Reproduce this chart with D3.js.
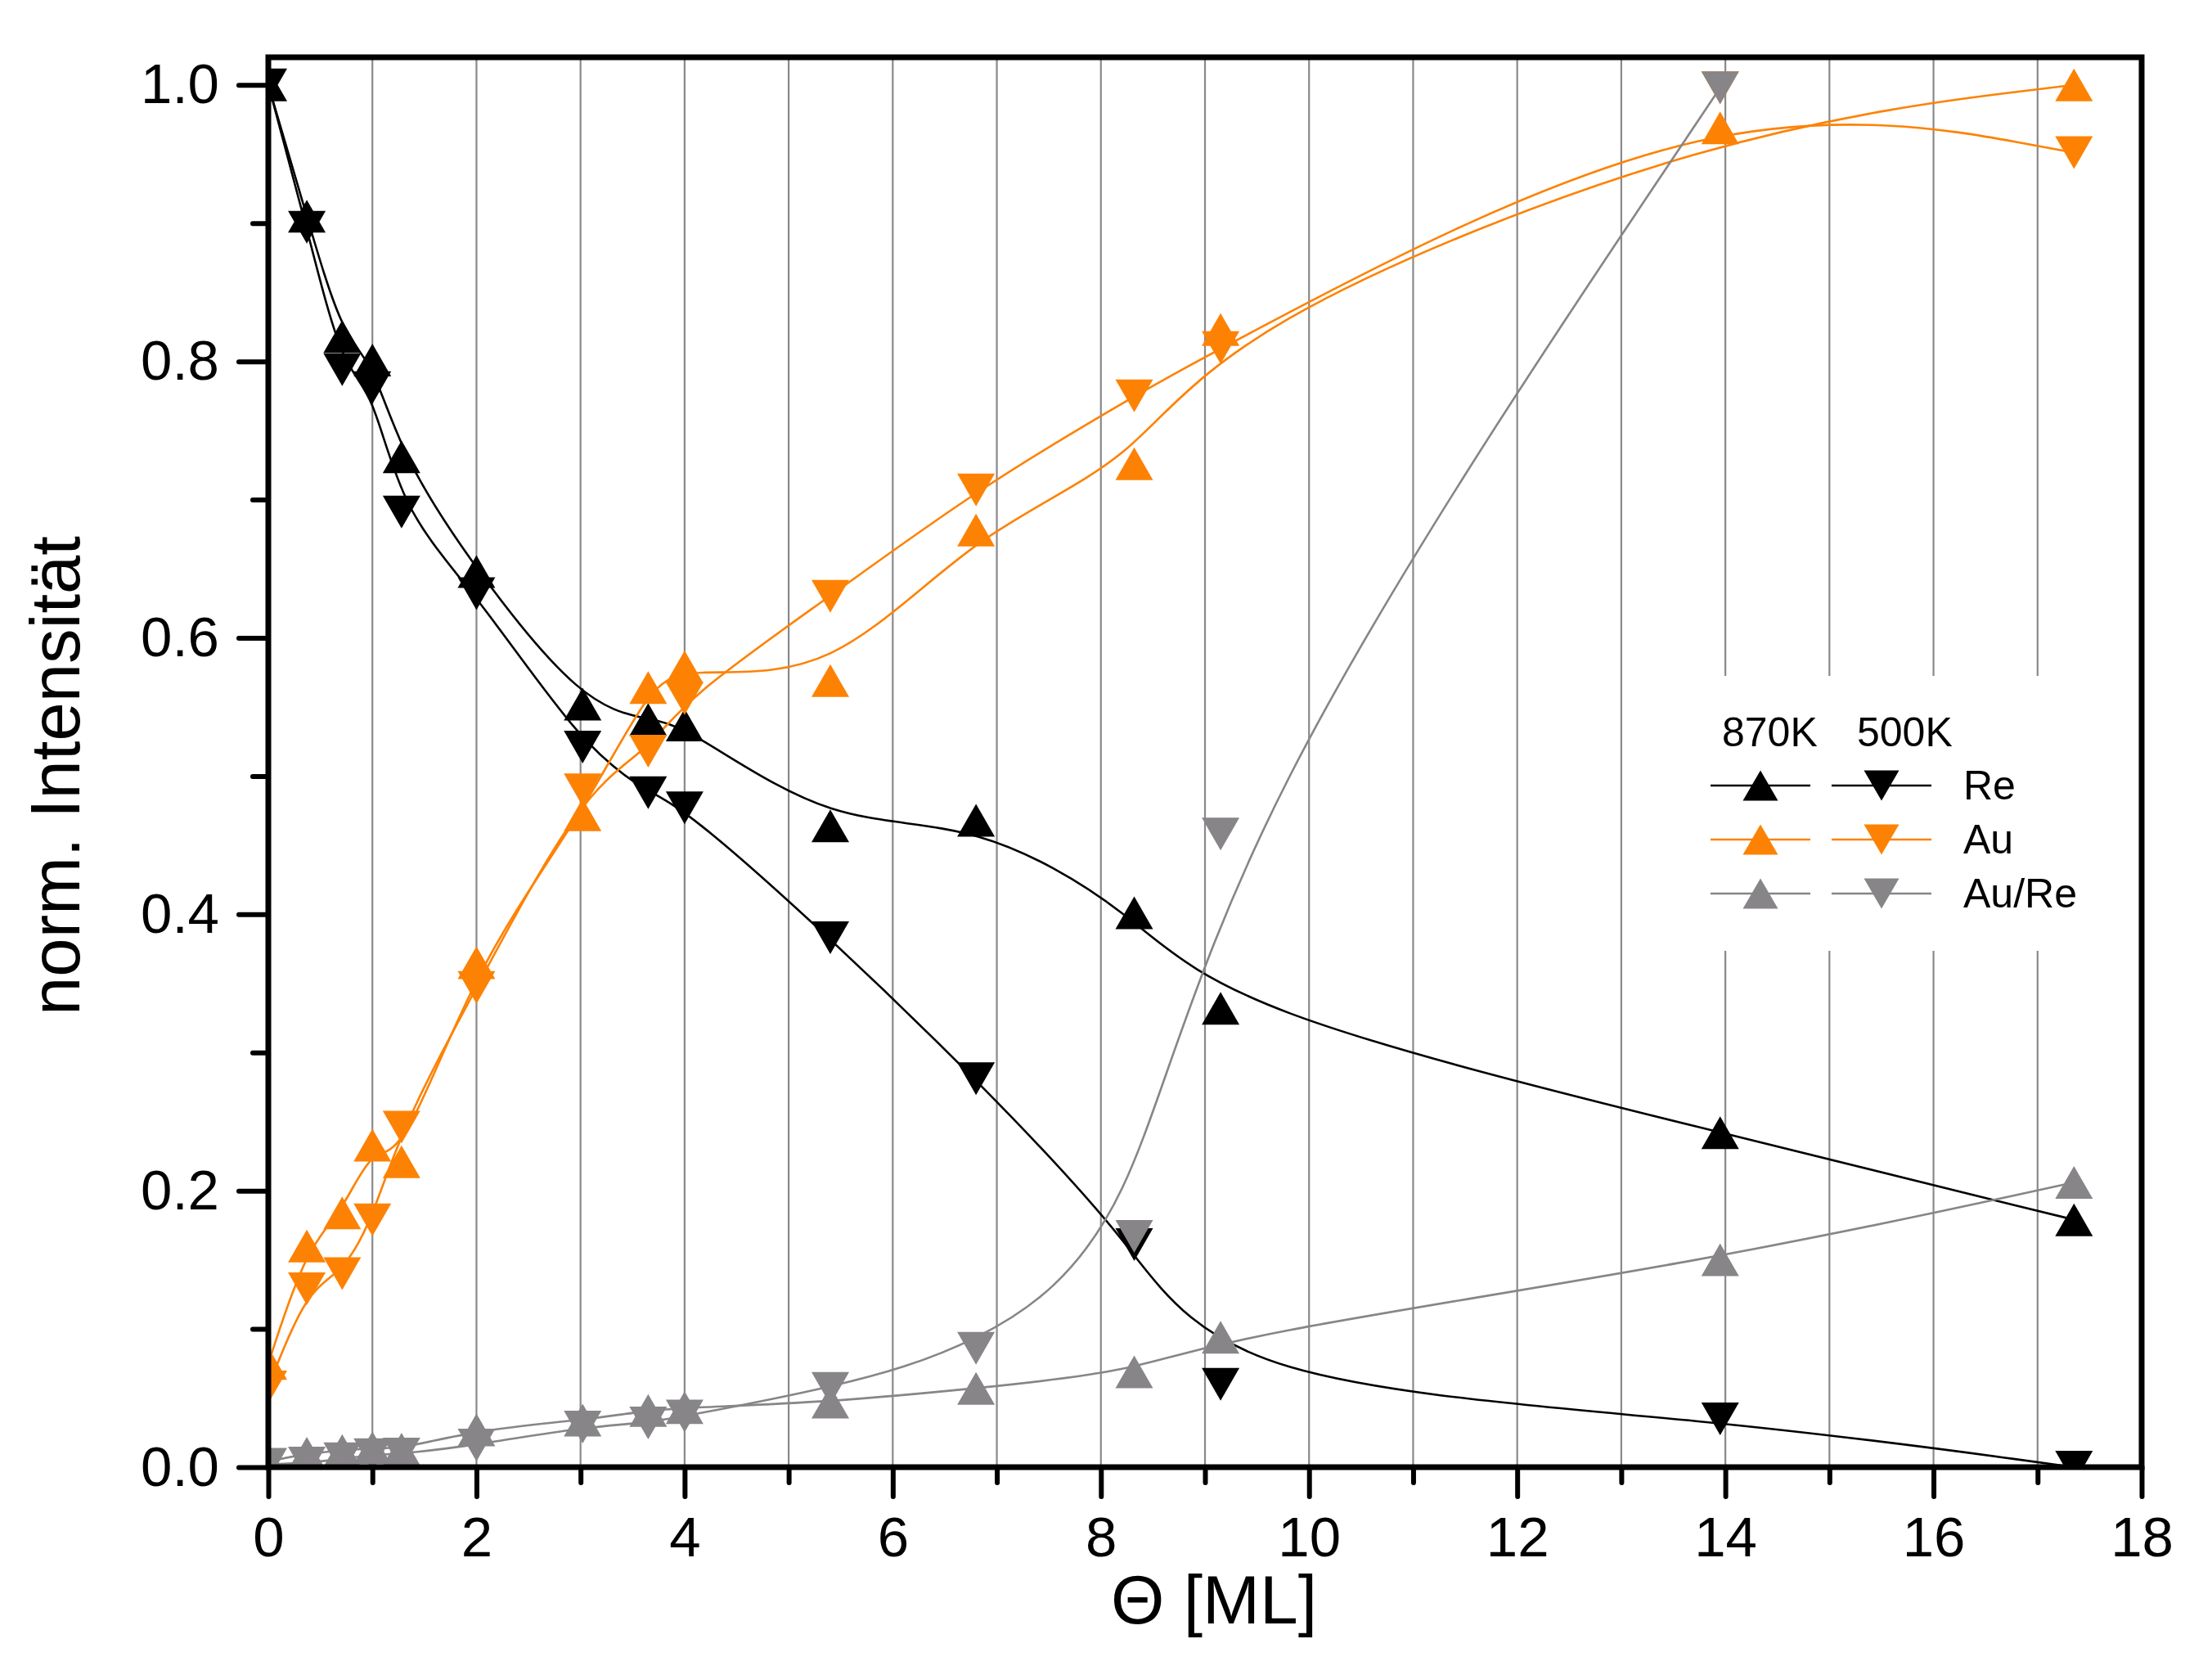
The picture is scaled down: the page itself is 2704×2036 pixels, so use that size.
<!DOCTYPE html>
<html><head><meta charset="utf-8">
<script src="https://cdn.jsdelivr.net/npm/d3@7"></script>
<style>body{margin:0;background:#fff}</style>
</head><body><svg id="c" width="2704" height="2036"></svg>
<script>
// ---- data ----
const coverage = [0, 0.37, 0.71, 1.0, 1.28, 2.0, 3.02, 3.65, 4.0, 5.4, 6.8, 8.32, 9.15, 13.95, 17.35];
const re870   = [1.0, 0.905, 0.818, 0.801, 0.731, 0.648, 0.552, 0.541, 0.537, 0.464, 0.468, 0.401, 0.332, 0.242, 0.179];
const re500   = [1.0, 0.897, 0.794, 0.781, 0.691, 0.632, 0.521, 0.488, 0.477, 0.383, 0.281, 0.161, 0.060, 0.035, 0.0];
const au870   = [0.075, 0.160, 0.184, 0.233, 0.221, 0.365, 0.472, 0.564, 0.579, 0.569, 0.678, 0.726, 0.823, 0.969, 1.0];
const au500   = [0.058, 0.129, 0.140, 0.179, 0.246, 0.347, 0.490, 0.518, 0.556, 0.630, 0.707, 0.775, 0.810, 0.998, 0.951];
const aure870 = [0.004, 0.010, 0.012, 0.014, 0.013, 0.027, 0.034, 0.041, 0.043, 0.047, 0.057, 0.069, 0.094, 0.150, 0.206];
const aure500 = [0.002, 0.003, 0.006, 0.009, 0.0095, 0.016, 0.029, 0.032, 0.037, 0.057, 0.086, 0.167, 0.458, 0.998];

const xMajorTicks = [0, 2, 4, 6, 8, 10, 12, 14, 16, 18];
const xMinorTicks = [1, 3, 5, 7, 9, 11, 13, 15, 17];
const yMajorTicks = [0.0, 0.2, 0.4, 0.6, 0.8, 1.0];
const yMinorTicks = [0.1, 0.3, 0.5, 0.7, 0.9];
const legendHeader = ["870K", "500K"];
const legendRows = ["Re", "Au", "Au/Re"];
const xTitle = "\u0398 [ML]";
const yTitle = "norm. Intensit\u00e4t";

// ---- styles ----
const BLACK = "#000000", ORANGE = "#FD8204", GRAY = "#878588", GRID = "#8a888c";
const FONT = "'Liberation Sans', Arial, Helvetica, sans-serif";

const series = [
  {vals: re870,  color: BLACK,  up: true},
  {vals: re500,  color: BLACK,  up: false},
  {vals: au500,  color: ORANGE, up: false},
  {vals: au870,  color: ORANGE, up: true},
  {vals: aure870, color: GRAY,  up: true},
  {vals: aure500, color: GRAY,  up: false}
];

const W = 2704, H = 2036;
const m = {left: 328, right: 2618, top: 70, bottom: 1793};
const x = d3.scaleLinear().domain([0, 18]).range([m.left, m.right]);
const y = d3.scaleLinear().domain([0, 1.02]).range([m.bottom, m.top]);

const svg = d3.select('#c');
svg.append('rect').attr('width', W).attr('height', H).attr('fill', '#fff');

svg.append('defs').append('clipPath').attr('id', 'plotclip')
  .append('rect').attr('x', m.left).attr('y', m.top)
  .attr('width', m.right - m.left).attr('height', m.bottom - m.top);

// gridlines at every integer
const gridVals = xMajorTicks.concat(xMinorTicks).filter(d => d > 0 && d < 18);
svg.append('g').selectAll('line').data(gridVals).join('line')
  .attr('x1', d => x(d)).attr('x2', d => x(d))
  .attr('y1', m.top).attr('y2', m.bottom)
  .attr('stroke', GRID).attr('stroke-width', 2.2);

function tri(w, h, up) {
  return up
    ? `M0,${-h/2}L${w/2},${h/2}L${-w/2},${h/2}Z`
    : `M0,${h/2}L${w/2},${-h/2}L${-w/2},${-h/2}Z`;
}

const plot = svg.append('g').attr('clip-path', 'url(#plotclip)');
const line = d3.line().x(d => x(d[0])).y(d => y(d[1])).curve(d3.curveBasis);

series.forEach(s => {
  s.pts = s.vals.map((v, i) => [coverage[i], v]);
  plot.append('path').datum(s.pts).attr('d', line)
    .attr('fill', 'none').attr('stroke', s.color).attr('stroke-width', 2.6);
});
series.forEach(s => {
  plot.append('g').selectAll('path').data(s.pts).join('path')
    .attr('transform', d => `translate(${x(d[0])},${y(d[1])})`)
    .attr('d', tri(46, 40, s.up)).attr('fill', s.color);
});

// legend
const lg = svg.append('g');
lg.append('rect').attr('x', 2078).attr('y', 826).attr('width', 2612 - 2078).attr('height', 1162 - 826).attr('fill', '#fff');
const colX = [2152, 2300];
lg.selectAll('text.hdr').data(legendHeader).join('text').attr('class', 'hdr')
  .attr('x', (d, i) => [2105, 2270][i]).attr('y', 912)
  .attr('font-family', FONT).attr('font-size', 50).attr('fill', BLACK).text(d => d);
const rowColors = [BLACK, ORANGE, GRAY];
legendRows.forEach((name, r) => {
  const ry = 960 + r * 66;
  [true, false].forEach((up, c) => {
    lg.append('line').attr('x1', colX[c] - 61).attr('x2', colX[c] + 61)
      .attr('y1', ry).attr('y2', ry).attr('stroke', rowColors[r]).attr('stroke-width', 2.6);
    lg.append('path').attr('transform', `translate(${colX[c]},${ry})`)
      .attr('d', tri(43, 37, up)).attr('fill', rowColors[r]);
  });
  lg.append('text').attr('x', 2400).attr('y', ry + 17)
    .attr('font-family', FONT).attr('font-size', 50).attr('fill', BLACK).text(name);
});

// axes
const gx = svg.append('g').attr('transform', `translate(0,${m.bottom})`)
  .call(d3.axisBottom(x).tickValues(xMajorTicks).tickSize(36).tickPadding(24).tickFormat(d3.format('d')));
const gxm = svg.append('g').attr('transform', `translate(0,${m.bottom})`)
  .call(d3.axisBottom(x).tickValues(xMinorTicks).tickSize(19).tickFormat(''));
const gy = svg.append('g').attr('transform', `translate(${m.left},0)`)
  .call(d3.axisLeft(y).tickValues(yMajorTicks).tickSize(36).tickPadding(24).tickFormat(d3.format('.1f')));
const gym = svg.append('g').attr('transform', `translate(${m.left},0)`)
  .call(d3.axisLeft(y).tickValues(yMinorTicks).tickSize(19).tickFormat(''));
[gx, gxm, gy, gym].forEach(g => {
  g.select('.domain').remove();
  g.selectAll('.tick line').attr('stroke', BLACK).attr('stroke-width', 6).attr('stroke-linecap', 'round');
  g.selectAll('.tick text').attr('font-family', FONT).attr('font-size', 69).attr('fill', BLACK);
});

// frame
svg.append('rect').attr('x', m.left).attr('y', m.top)
  .attr('width', m.right - m.left).attr('height', m.bottom - m.top)
  .attr('fill', 'none').attr('stroke', BLACK).attr('stroke-width', 7);

// titles
svg.append('text').attr('x', 1484).attr('y', 1984).attr('text-anchor', 'middle')
  .attr('font-family', FONT).attr('font-size', 84).attr('fill', BLACK).text(xTitle);
svg.append('text').attr('transform', 'translate(97,948) rotate(-90)').attr('text-anchor', 'middle')
  .attr('font-family', FONT).attr('font-size', 85).attr('fill', BLACK).text(yTitle);
</script>
</body></html>
